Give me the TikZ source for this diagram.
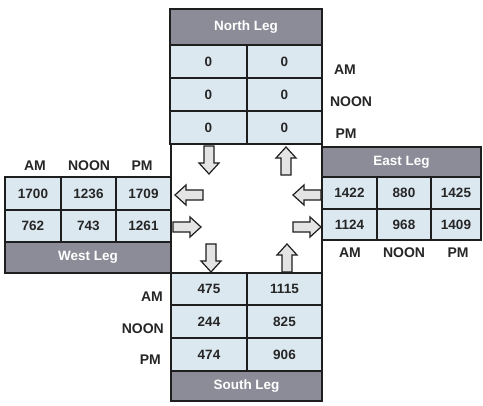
\documentclass[tikz,border=0pt]{standalone}
\usepackage{fontspec}
\setmainfont{Liberation Sans}
\definecolor{hdr}{HTML}{8C8C98}
\definecolor{cellc}{HTML}{DCE8F0}
\definecolor{linec}{HTML}{1E1E1E}
\definecolor{arrf}{HTML}{E4E4E4}
\definecolor{arrp}{HTML}{CCC6E0}
\definecolor{arrg}{HTML}{D4E0DC}
\tikzset{
  box/.style={draw=linec, line width=1.6pt, inner sep=0pt, outer sep=0pt},
  cell/.style={box, fill=cellc, font=\fontsize{13.5}{15}\selectfont\bfseries, text=black!85},
  hdrbox/.style={box, fill=hdr, font=\fontsize{13.5}{15}\selectfont\bfseries, text=white},
  blank/.style={box, fill=white},
  lbl/.style={font=\fontsize{14}{16}\selectfont\bfseries, text=black!85, inner sep=0pt},
  arrowshape/.style={draw=linec, line width=1.2pt, fill=arrf, line join=miter},
  barrow/.pic={\path[arrowshape,pic actions] (-14,-5) -- (3,-5) -- (3,-10) -- (14,0) -- (3,10) -- (3,5) -- (-14,5) -- cycle;}
}
\newcommand{\rc}[7][cell]{\node[#1, minimum width={(#5-#3)*1pt}, minimum height={(#6-#4)*1pt}] (#2) at ({(#3+#5)/2},{(#4+#6)/2}) {#7};}
\begin{document}
\begin{tikzpicture}[x=1pt,y=-1pt]
\path[use as bounding box] (0,0) rectangle (483,406);
% North leg
\rc[hdrbox]{nh}{170}{9}{322}{45}{North Leg}
\rc{n11}{170}{45}{247}{78}{0}
\rc{n12}{247}{45}{322}{78}{0}
\rc{n21}{170}{78}{247}{111}{0}
\rc{n22}{247}{78}{322}{111}{0}
\rc{n31}{170}{111}{247}{144}{0}
\rc{n32}{247}{111}{322}{144}{0}
\node[lbl] (nam) at (345,70) {AM};
\node[lbl] (nnoon) at (351,102) {NOON};
\node[lbl] (npm) at (346,134) {PM};
% Centre
\rc[blank]{ctr}{171}{144}{322}{273}{}
% West leg
\node[lbl] (wam) at (35,166) {AM};
\node[lbl] (wnoon) at (89,166) {NOON};
\node[lbl] (wpm) at (142,166) {PM};
\rc{w11}{5}{177}{61}{210}{1700}
\rc{w12}{61}{177}{116}{210}{1236}
\rc{w13}{116}{177}{171}{210}{1709}
\rc{w21}{5}{210}{61}{242}{762}
\rc{w22}{61}{210}{116}{242}{743}
\rc{w23}{116}{210}{171}{242}{1261}
\rc[hdrbox]{wh}{5}{242}{171}{273}{West Leg}
% East leg
\rc[hdrbox]{eh}{322}{147}{481}{177}{East Leg}
\rc{e11}{322}{177}{377}{209}{1422}
\rc{e12}{377}{177}{431}{209}{880}
\rc{e13}{431}{177}{481}{209}{1425}
\rc{e21}{322}{209}{377}{240}{1124}
\rc{e22}{377}{209}{431}{240}{968}
\rc{e23}{431}{209}{481}{240}{1409}
\node[lbl] (eam) at (350,253) {AM};
\node[lbl] (enoon) at (404,253) {NOON};
\node[lbl] (epm) at (458,253) {PM};
% South leg
\rc{s11}{171}{273}{247}{305}{475}
\rc{s12}{247}{273}{322}{305}{1115}
\rc{s21}{171}{305}{247}{338}{244}
\rc{s22}{247}{305}{322}{338}{825}
\rc{s31}{171}{338}{247}{371}{474}
\rc{s32}{247}{338}{322}{371}{906}
\rc[hdrbox]{sh}{171}{371}{322}{401}{South Leg}
\node[lbl, anchor=east] (sam) at (163,297) {AM};
\node[lbl, anchor=east] (snoon) at (164,329) {NOON};
\node[lbl, anchor=east] (spm) at (161,360) {PM};
% Arrows
\pic[rotate=-90] (anin) at (209,160) {barrow};
\pic[rotate=90] (anout) at (286,161) {barrow};
\pic[rotate=180] (awout) at (189,195) {barrow};
\pic[rotate=180] (aein) at (307,195) {barrow};
\pic[fill=arrp] (awin) at (187,227) {barrow};
\pic[fill=arrg] (aeout) at (307,227) {barrow};
\pic[rotate=-90] (asin) at (211,258) {barrow};
\pic[rotate=90] (asout) at (287,258) {barrow};
\end{tikzpicture}
\end{document}
